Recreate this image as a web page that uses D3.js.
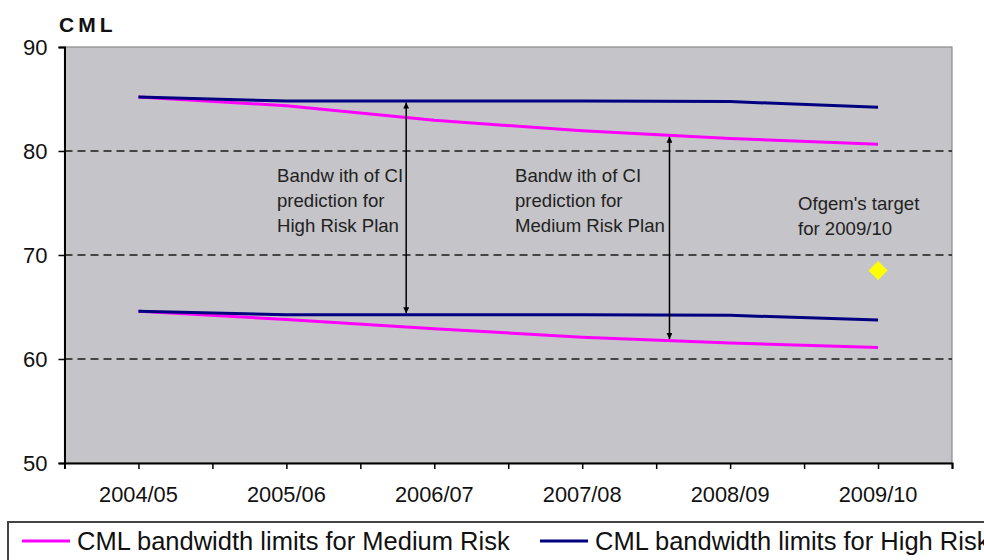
<!DOCTYPE html>
<html>
<head>
<meta charset="utf-8">
<script src="https://cdn.jsdelivr.net/npm/d3@7"></script>
<style>
  html, body { margin: 0; padding: 0; background: #ffffff; }
  svg { display: block; font-family: "Liberation Sans", Arial, sans-serif; }
</style>
</head>
<body>
<svg id="chart" width="984" height="560"></svg>
<script>
// Financial years on the category axis
const years = ["2004/05", "2005/06", "2006/07", "2007/08", "2008/09", "2009/10"];

// CML confidence-interval limits (upper and lower) per plan
const mediumUpper = [85.2, 84.35, 82.95, 81.95, 81.2, 80.65];
const mediumLower = [64.6, 63.8, 62.9, 62.1, 61.55, 61.1];
const highUpper   = [85.2, 84.8, 84.8, 84.8, 84.75, 84.2];
const highLower   = [64.6, 64.25, 64.25, 64.25, 64.2, 63.75];

// Ofgem target for the final year
const targetYear = "2009/10";
const targetValue = 68.5;

// Value axis ticks and dashed gridlines
const yTicks = [50, 60, 70, 80, 90];
const gridValues = [60, 70, 80];

// Bandwidth arrows, placed at fractional year positions
const arrows = [
  { at: 1.81, upper: highUpper, lower: highLower },
  { at: 3.59, upper: mediumUpper, lower: mediumLower }
];

const svg = d3.select("#chart");
const plotLeft = 64.5, plotRight = 952, plotTop = 47, plotBottom = 463;

// Each year occupies two units; ticks are drawn on every unit
const x = d3.scaleLinear().domain([0, years.length * 2]).range([plotLeft, plotRight]);
const yearPos = i => x(2 * i + 1);
const y = d3.scaleLinear().domain([50, 90]).range([plotBottom, plotTop]);

// Plot area
svg.append("rect")
  .attr("x", plotLeft).attr("y", plotTop)
  .attr("width", plotRight - plotLeft).attr("height", plotBottom - plotTop)
  .attr("fill", "#c5c4c8")
  .attr("stroke", "#8a8a8a").attr("stroke-width", 1.2);

// Dashed gridlines
svg.append("g").selectAll("line").data(gridValues).join("line")
  .attr("x1", plotLeft).attr("x2", plotRight)
  .attr("y1", d => y(d)).attr("y2", d => y(d))
  .attr("stroke", "#1a1a1a").attr("stroke-width", 1.6)
  .attr("stroke-dasharray", "8,5");

// Y axis
const yAxis = svg.append("g")
  .attr("transform", `translate(${plotLeft},0)`)
  .call(d3.axisLeft(y).tickValues(yTicks).tickSize(6).tickPadding(11).tickFormat(d3.format("d")));
yAxis.select(".domain").attr("stroke", "#000").attr("stroke-width", 2);
yAxis.selectAll(".tick line").attr("stroke", "#000").attr("stroke-width", 1.5);
yAxis.selectAll("text").attr("font-size", 22).attr("fill", "#111")
  .attr("font-family", "Liberation Sans, Arial, sans-serif");

// X axis: ticks at every unit, labels at year centres
const xAxis = svg.append("g")
  .attr("transform", `translate(0,${plotBottom})`)
  .call(d3.axisBottom(x).ticks(years.length * 2).tickSize(6).tickFormat(""));
xAxis.select(".domain").attr("stroke", "#000").attr("stroke-width", 2);
xAxis.selectAll(".tick line").attr("stroke", "#000").attr("stroke-width", 1.5);

svg.append("g").selectAll("text").data(years).join("text")
  .attr("x", (d, i) => yearPos(i))
  .attr("y", 502)
  .attr("text-anchor", "middle")
  .attr("font-size", 21.8)
  .attr("fill", "#111")
  .text(d => d);

// Title
svg.append("text")
  .attr("x", 59).attr("y", 32)
  .attr("font-size", 21).attr("font-weight", "bold")
  .attr("letter-spacing", 4)
  .attr("fill", "#111")
  .text("CML");

// Series lines
const line = d3.line().x((d, i) => yearPos(i)).y(d => y(d));
const series = [
  { values: mediumUpper, color: "#ff00ff" },
  { values: mediumLower, color: "#ff00ff" },
  { values: highUpper, color: "#000080" },
  { values: highLower, color: "#000080" }
];
svg.append("g").selectAll("path").data(series).join("path")
  .attr("d", d => line(d.values))
  .attr("fill", "none")
  .attr("stroke", d => d.color)
  .attr("stroke-width", 3)
  .attr("stroke-linejoin", "round");

// Arrow markers
const defs = svg.append("defs");
defs.append("marker")
  .attr("id", "head")
  .attr("viewBox", "0 0 10 10")
  .attr("refX", 10).attr("refY", 5)
  .attr("markerWidth", 7).attr("markerHeight", 6)
  .attr("markerUnits", "userSpaceOnUse")
  .attr("orient", "auto-start-reverse")
  .append("path").attr("d", "M0,0 L10,5 L0,10 Z").attr("fill", "#000");

// Interpolated value of a series at a fractional year index
const valueAt = (arr, t) => {
  const i = Math.min(Math.floor(t), arr.length - 2);
  const f = t - i;
  return arr[i] + (arr[i + 1] - arr[i]) * f;
};
const posAt = t => x(2 * t + 1);

svg.append("g").selectAll("line").data(arrows).join("line")
  .attr("x1", d => posAt(d.at)).attr("x2", d => posAt(d.at))
  .attr("y1", d => y(valueAt(d.upper, d.at)) + 1.5)
  .attr("y2", d => y(valueAt(d.lower, d.at)) - 1.5)
  .attr("stroke", "#000").attr("stroke-width", 1.5)
  .attr("marker-start", "url(#head)")
  .attr("marker-end", "url(#head)");

// Annotations
const notes = [
  { x: 277, y: 182, lines: ["Bandw ith of CI", "prediction for", "High Risk Plan"] },
  { x: 515, y: 182, lines: ["Bandw ith of CI", "prediction for", "Medium Risk Plan"] },
  { x: 798, y: 210, lines: ["Ofgem's target", "for 2009/10"] }
];
notes.forEach(n => {
  const t = svg.append("text")
    .attr("x", n.x).attr("y", n.y)
    .attr("font-size", 18.6).attr("fill", "#222");
  n.lines.forEach((l, i) => {
    t.append("tspan").attr("x", n.x).attr("dy", i === 0 ? 0 : 25).text(l);
  });
});

// Target marker
svg.append("path")
  .attr("d", d3.symbol().type(d3.symbolDiamond2).size(230)())
  .attr("transform", `translate(${yearPos(years.indexOf(targetYear))},${y(targetValue)})`)
  .attr("fill", "#ffff00");

// Legend
const legend = svg.append("g");
legend.append("rect")
  .attr("x", 8).attr("y", 522)
  .attr("width", 1000).attr("height", 60)
  .attr("fill", "#fff").attr("stroke", "#444").attr("stroke-width", 2);
const legendItems = [
  { label: "CML bandwidth limits for Medium Risk", color: "#ff00ff", x: 22 },
  { label: "CML bandwidth limits for High Risk", color: "#000080", x: 540 }
];
legendItems.forEach(it => {
  legend.append("line")
    .attr("x1", it.x).attr("x2", it.x + 48)
    .attr("y1", 541).attr("y2", 541)
    .attr("stroke", it.color).attr("stroke-width", 3);
  legend.append("text")
    .attr("x", it.x + 55).attr("y", 550)
    .attr("font-size", 25.5).attr("fill", "#111")
    .text(it.label);
});
</script>
</body>
</html>
